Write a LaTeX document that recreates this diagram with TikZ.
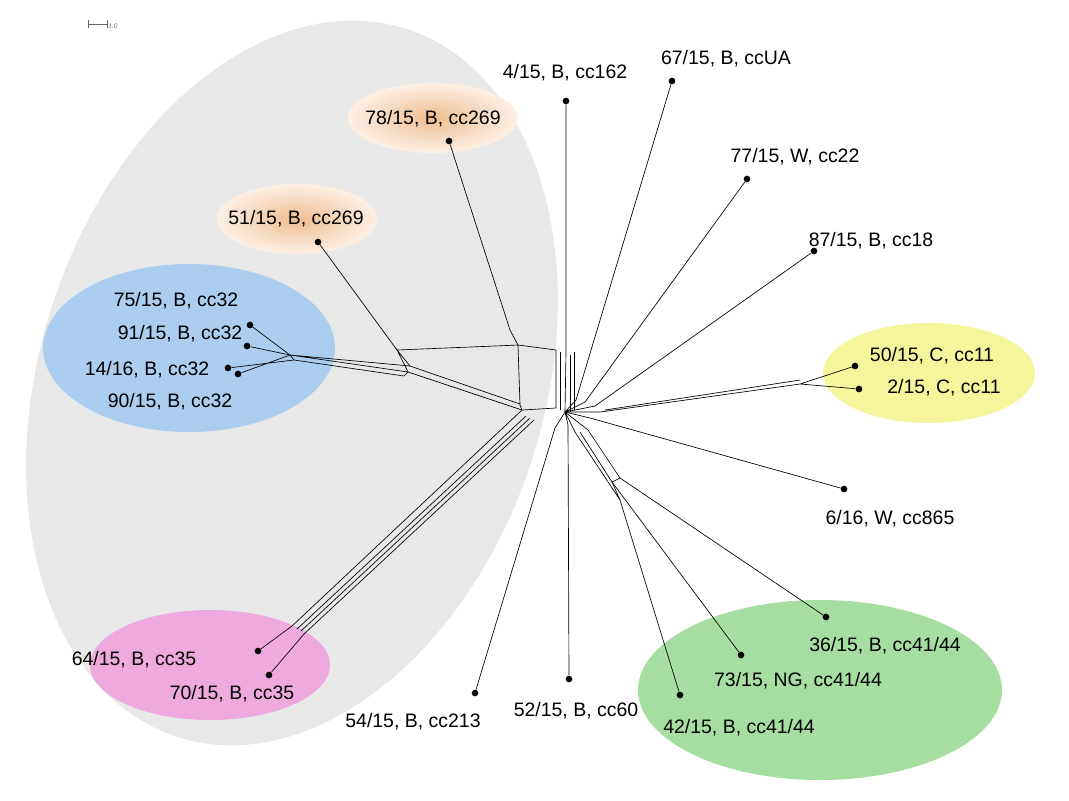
\documentclass[tikz,border=0pt]{standalone}
\usepackage{fontspec}
\setmainfont{Liberation Sans}
\definecolor{grpblue}{RGB}{170,205,240}
\definecolor{grpgreen}{RGB}{165,222,160}
\definecolor{grppink}{RGB}{238,170,222}
\definecolor{grpyellow}{RGB}{245,245,155}
\definecolor{grporange}{RGB}{240,190,145}
\begin{document}
\begin{tikzpicture}[x=0.75pt,y=-0.75pt,
  leaf/.style={circle,fill=black,inner sep=0pt,minimum size=5pt},
  lab/.style={font=\fontsize{14.6}{17}\selectfont,inner sep=1pt},
  edge/.style={draw=black,line width=0.5pt},
  blob/.style={inner color=grporange,outer color=grporange!25}]
\useasboundingbox (0,0) rectangle (1069,800);
% groups
\fill[black!9,rotate around={-18:(292,383)}] (292,383) ellipse [x radius=252, y radius=372];
\shade[blob] (433,118) ellipse [x radius=85, y radius=35];
\shade[blob] (297,219) ellipse [x radius=80, y radius=35];
\fill[grpblue] (189,348) ellipse [x radius=146, y radius=84];
\fill[grpyellow] (929,373) ellipse [x radius=106, y radius=50];
\fill[grppink] (210,665) ellipse [x radius=120, y radius=55];
\fill[grpgreen] (820,690) ellipse [x radius=182, y radius=90];
% scale bar
\draw[black!60,|-|,line width=0.6pt] (88,24) -- (108,24);
\node[anchor=west,font=\itshape\tiny,black!60,inner sep=0pt] (sc) at (108,26) {1.0};
% internal splits
\coordinate (h) at (565,412);
\coordinate (hl) at (522,410);
\coordinate (hu) at (556,350);
\coordinate (gl) at (408,372);
\coordinate (gu) at (510,330);
\coordinate (bl) at (290,355);
\coordinate (pk) at (292,626);
\coordinate (ye) at (800,384);
% leaves
\foreach \n/\p in {a4/{566,101},a67/{672,81},a78/{449,141},a77/{747,179},a51/{318,242},
  a87/{814,251},a75/{250,325},a91/{247,346},a14/{228,368},a90/{238,374},a50/{855,366},
  a2/{859,389},a6/{844,489},a36/{826,617},a73/{741,655},a42/{680,695},a52/{569,679},
  a54/{475,693},a64/{258,651},a70/{269,675}}
  \node[leaf] (\n) at (\p) {};
% labels
\node[lab] (t4) at (565,73) {4/15, B, cc162};
\node[lab] (t67) at (726,59) {67/15, B, ccUA};
\node[lab] (t78) at (433,119) {78/15, B, cc269};
\node[lab] (t77) at (795,157) {77/15, W, cc22};
\node[lab] (t51) at (296,219) {51/15, B, cc269};
\node[lab] (t87) at (871,241) {87/15, B, cc18};
\node[lab] (t75) at (176,301) {75/15, B, cc32};
\node[lab] (t91) at (180,334) {91/15, B, cc32};
\node[lab] (t14) at (147,370) {14/16, B, cc32};
\node[lab] (t90) at (170,402) {90/15, B, cc32};
\node[lab] (t50) at (932,356) {50/15, C, cc11};
\node[lab] (t2) at (944,388) {2/15, C, cc11};
\node[lab] (t6) at (890,519) {6/16, W, cc865};
\node[lab] (t36) at (885,646) {36/15, B, cc41/44};
\node[lab] (t73) at (798,681) {73/15, NG, cc41/44};
\node[lab] (t42) at (739,728) {42/15, B, cc41/44};
\node[lab] (t52) at (576,711) {52/15, B, cc60};
\node[lab] (t54) at (413,722) {54/15, B, cc213};
\node[lab] (t64) at (134,660) {64/15, B, cc35};
\node[lab] (t70) at (232,694) {70/15, B, cc35};
% network
\draw[edge] (a4) -- (566,352) -- (h);
\draw[edge] (hu) -- (556,408) -- (hl);
\draw[edge] (hu) -- (518,345) -- (gu) -- (a78);
\draw[edge] (518,345) -- (520,405) -- (hl);
\draw[edge] (560,352) -- (560,410) (570,355) -- (570,412) (574,352) -- (574,410);
\draw[edge] (hl) -- (gl) (520,404) -- (410,366) (gl) -- (397,350) -- (410,366);
\draw[edge] (397,350) -- (a51) (397,350) -- (495,346) -- (518,345);
\draw[edge] (gl) -- (bl) (410,366) -- (bl) (gl) -- (404,376) -- (294,360) -- (bl);
\draw[edge] (bl) -- (a75) (bl) -- (a91) (294,360) -- (a14) (bl) -- (a90);
\draw[edge] (hl) -- (pk) (526,416) -- (297,629) (530,418) -- (301,631) (534,420) -- (304,634);
\draw[edge] (pk) -- (a64) (304,634) -- (a70);
\draw[edge] (555,428) -- (a54);
\draw[edge] (568,425) -- (a52);
\draw[edge] (h) -- (h -| 600,412) -- (ye) (605,410) -- (800,380) (ye) -- (a50) (ye) -- (a2);
\draw[edge] (576,400) -- (a67);
\draw[edge] (585,402) -- (a77);
\draw[edge] (595,406) -- (a87);
\draw[edge] (590,418) -- (a6);
\draw[edge] (588,430) -- (620,478) -- (a36) (580,432) -- (612,482) -- (a73);
\draw[edge] (612,482) -- (620,478) (575,432) -- (620,500) -- (a42) (620,500) -- (612,482);
\draw[edge] (h) -- (575,432) (h) -- (588,430) (h) -- (555,428) (h) -- (568,425);
\draw[edge] (h) -- (576,400) (h) -- (585,402) (h) -- (595,406) (h) -- (590,418);
\end{tikzpicture}
\end{document}
